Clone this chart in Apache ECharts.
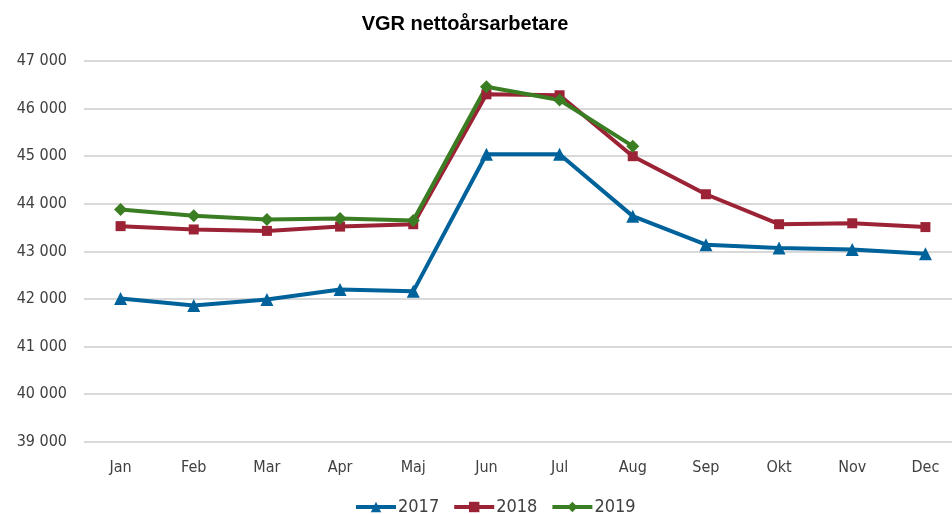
<!DOCTYPE html>
<html>
<head>
<meta charset="utf-8">
<script src="https://cdn.jsdelivr.net/npm/echarts@6/dist/echarts.min.js"></script>
<style>
  html, body { margin: 0; padding: 0; background: #fff; overflow: hidden; }
  /* plot area runs off the right edge in the original, so the box is a bit wider than the window */
  #chart { width: 962px; height: 514px; }
</style>
</head>
<body>
<div id="chart"></div>
<script>
var months = ['Jan', 'Feb', 'Mar', 'Apr', 'Maj', 'Jun', 'Jul', 'Aug', 'Sep', 'Okt', 'Nov', 'Dec'];
var v2017 = [42010, 41860, 41990, 42200, 42160, 45040, 45040, 43740, 43140, 43070, 43040, 42950];
var v2018 = [43530, 43460, 43430, 43520, 43570, 46300, 46280, 45000, 44200, 43570, 43590, 43510];
var v2019 = [43880, 43750, 43670, 43690, 43650, 46460, 46180, 45210];
var yMin = 39000, yMax = 47000, yStep = 1000;

var font = "'Liberation Sans Narrow', 'DejaVu Sans Condensed', 'Liberation Sans', sans-serif";

var myChart = echarts.init(document.getElementById('chart'));

// one helper for the three series, they only differ in colour and marker
var mkSeries = (name, data, color, symbol, size) => ({
    name: name,
    type: 'line',
    data: data,
    symbol: symbol,
    symbolSize: size,
    showAllSymbol: true,
    lineStyle: { color: color, width: 4 },
    itemStyle: { color: color },
    emphasis: { disabled: true },
    z: 3
});

var option = {
    animation: false,
    textStyle: { fontFamily: font },
    title: {
        text: 'VGR nettoårsarbetare',
        left: 460,
        top: 9,
        textAlign: 'center',
        textStyle: { fontFamily: 'Liberation Sans', fontSize: 20, fontWeight: 'bold', color: '#000' }
    },
    legend: {
        bottom: -7,
        left: 349,
        itemWidth: 40,
        itemHeight: 13,
        itemGap: 13,
        lineStyle: { width: 4 },
        textStyle: { fontFamily: font, fontSize: 18, color: '#404040', padding: [0, 0, 0, -3] },
        data: ['2017', '2018', '2019']
    },
    grid: {
        left: 84,
        top: 61,
        right: 0,
        height: 380.7
    },
    xAxis: {
        type: 'category',
        data: months,
        boundaryGap: true,
        axisLine: { show: false },
        axisTick: { show: false },
        axisLabel: { fontFamily: font, fontSize: 16, color: '#404040', margin: 18 }
    },
    yAxis: {
        type: 'value',
        min: yMin,
        max: yMax,
        interval: yStep,
        axisLine: { show: false },
        axisTick: { show: false },
        splitLine: { lineStyle: { color: '#d9d9d9', width: 2 } },
        axisLabel: {
            fontFamily: font,
            fontSize: 16,
            color: '#404040',
            margin: 17,
            formatter: v => String(v).replace(/\B(?=(\d{3})+(?!\d))/g, ' ')
        }
    },
    series: [
        mkSeries('2017', v2017, '#00629b', 'triangle', 13),
        mkSeries('2018', v2018, '#9b2335', 'rect', 10),
        mkSeries('2019', v2019, '#3b7d23', 'diamond', 13)
    ]
};

myChart.setOption(option);
</script>
</body>
</html>
